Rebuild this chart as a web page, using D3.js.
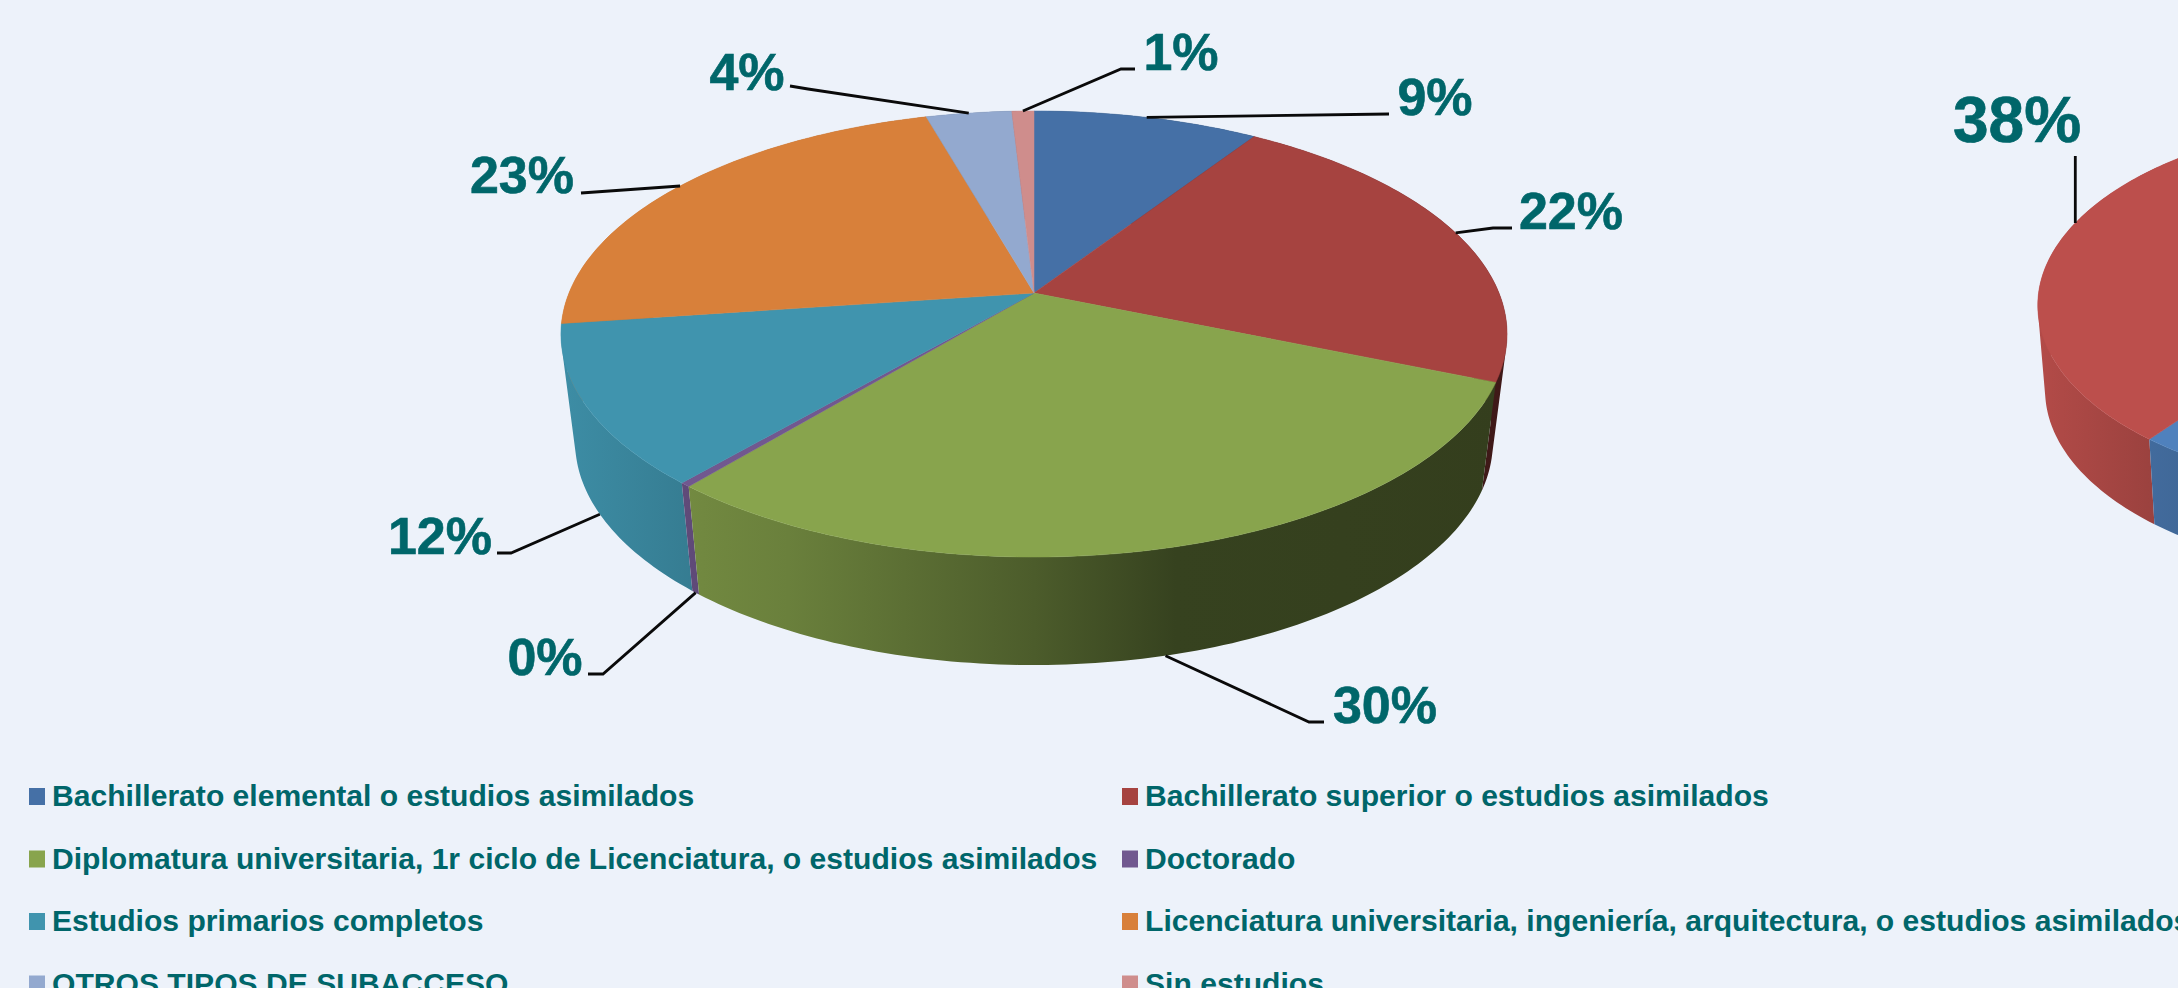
<!DOCTYPE html>
<html><head><meta charset="utf-8">
<script src="https://cdn.jsdelivr.net/npm/d3@7"></script>
<style>html,body{margin:0;padding:0;background:#edf2fa;overflow:hidden}svg{display:block}
text{font-family:"Liberation Sans",Arial,sans-serif;font-weight:bold;fill:#00666a}</style>
</head><body><svg id="c" width="2178" height="988"></svg>
<script>
const categories = ["Bachillerato elemental o estudios asimilados","Bachillerato superior o estudios asimilados",
 "Diplomatura universitaria, 1r ciclo de Licenciatura, o estudios asimilados","Doctorado",
 "Estudios primarios completos","Licenciatura universitaria, ingeniería, arquitectura, o estudios asimilados",
 "OTROS TIPOS DE SUBACCESO","Sin estudios"];
const colors = ["#4570a6","#a64340","#88a44d","#71588f","#4094ae","#d8803a","#93a9cf","#cf8d8c"];
const valuesLeft = [9.2,22.1,29.7,0.3,11.5,22.8,3.5,0.9];
const valuesRight = [60.3,38.45,1.25];
const colorsRight = ["#4f81bd","#bc4f4c","#88a44d"];

const svg = d3.select("#c");
svg.append("rect").attr("width",2178).attr("height",988).attr("fill","#edf2fa");
const defs = svg.append("defs");
const pie = d3.pie().sort(null).value(d=>d);
const shadeStops = [-1,-.7,-.52,0,.3,1];
const shadeVals = [.95,.83,.78,.56,.40,.38];

function drawPie(root, id, vals, cols, g){
  const x = d3.scaleLinear().domain([-1,1]).range([g.cx-g.k, g.cx+g.k]);
  const y = d3.scaleLinear().domain([-1,1]).range([g.ay+g.k2, g.ay-g.k2]);
  const P = t=>{const u=Math.sin(t),v=Math.cos(t),d=1+g.a*v;return [x(u/d),y(v/d)];};
  const Q = t=>{const p=P(t);return [g.cx+(p[0]-g.cx)*g.s,p[1]+g.depth];};
  const line = d3.line();
  const arcs = pie(vals);
  const step = Math.PI/180;
  cols.forEach((c,i)=>{
    const lg=defs.append("linearGradient").attr("id",id+i).attr("gradientUnits","userSpaceOnUse")
      .attr("x1",g.cx-g.rx).attr("x2",g.cx+g.rx).attr("y1",0).attr("y2",0);
    const b=d3.rgb(c);
    shadeStops.forEach((s,j)=>lg.append("stop").attr("offset",(s+1)/2)
      .attr("stop-color",d3.rgb(b.r*shadeVals[j],b.g*shadeVals[j],b.b*shadeVals[j]).formatHex()));
  });
  const walls=arcs.map((a,i)=>{
    const n=Math.max(1,Math.ceil((a.endAngle-a.startAngle)/step));
    let d="",ymax=-Infinity;
    for(let j=0;j<n;j++){
      const t0=a.startAngle+(a.endAngle-a.startAngle)*j/n,t1=a.startAngle+(a.endAngle-a.startAngle)*(j+1)/n;
      let pts=[P(t0),P(t1),Q(t1),Q(t0)];
      ymax=Math.max(ymax,pts[0][1],pts[1][1]);
      if(d3.polygonArea(pts)<0)pts=pts.reverse();
      d+=line(pts)+"Z";
    }
    return {d,ymax,col:`url(#${id}${i})`};
  }).sort((p,q)=>p.ymax-q.ymax);
  root.append("g").selectAll("path").data(walls).join("path")
    .attr("d",w=>w.d).attr("fill",w=>w.col);
  root.append("g").selectAll("path").data(arcs).join("path")
    .attr("d",a=>{const n=Math.max(2,Math.ceil((a.endAngle-a.startAngle)/step));
      const pts=[[g.cx,g.ay]];
      for(let j=0;j<=n;j++)pts.push(P(a.startAngle+(a.endAngle-a.startAngle)*j/n));
      return line(pts)+"Z";})
    .attr("fill",(a,i)=>cols[i]).attr("stroke",(a,i)=>cols[i]).attr("stroke-width",.5);
  return {arcs,P,Q};
}

const left = drawPie(svg.append("g"),"l",valuesLeft,colors,
  {cx:1034,ay:293,k:465,k2:215.5,a:.1838,rx:473,s:.97,depth:108});
const right = drawPie(svg.append("g"),"r",valuesRight,colorsRight,
  {cx:2403,ay:271,k:359,k2:180,a:.1838,rx:365,s:.98,depth:85});

// leader offsets and label placement
const leadersLeft = [
 {wall:0,path:[[1389,114]],tx:1435,ty:96},
 {wall:0,path:[[1493,228],[1512,228]],tx:1571,ty:210},
 {wall:1,path:[[1309,722],[1324,722]],tx:1385,ty:704},
 {wall:1,path:[[603,674],[588,674]],tx:545,ty:656},
 {wall:1,path:[[511,553],[497,553]],tx:440,ty:535},
 {wall:0,path:[[581,193]],tx:522,ty:174},
 {wall:0,path:[[808,89],[790,86]],tx:747,ty:71},
 {wall:0,path:[[1121,69],[1135,69]],tx:1181,ty:51}
];
const mid = a=>(a.startAngle+a.endAngle)/2;
const leaderLine=d3.line();
const G=svg.append("g");
left.arcs.forEach((a,i)=>{
  const l=leadersLeft[i];
  const s=(l.wall?left.Q:left.P)(mid(a));
  G.append("path").attr("d",leaderLine([s,...l.path])).attr("fill","none").attr("stroke","#0a0a0a").attr("stroke-width",2.8);
  G.append("text").attr("x",l.tx).attr("y",l.ty).attr("text-anchor","middle").attr("dy","0.36em")
    .attr("font-size",52).attr("stroke","#00666a").attr("stroke-width",.6).text(d3.format(".0f")(a.value)+"%");
});
{
  const a=right.arcs[1],s=right.P(mid(a));
  G.append("path").attr("d",leaderLine([s,[s[0],156]])).attr("fill","none").attr("stroke","#0a0a0a").attr("stroke-width",2.8);
  G.append("text").attr("x",2017).attr("y",119).attr("text-anchor","middle").attr("dy","0.36em")
    .attr("font-size",64).attr("stroke","#00666a").attr("stroke-width",.7).text(d3.format(".0f")(a.value)+"%");
}

// legend
const col = d3.scaleOrdinal().domain([0,1]).range([29,1122]);
const row = d3.scaleLinear().domain([0,3]).range([796,983.5]);
const lg=svg.append("g").selectAll("g").data(categories).join("g")
  .attr("transform",(d,i)=>`translate(${col(i%2)},${row(Math.floor(i/2))})`);
lg.append("rect").attr("x",0).attr("y",-8).attr("width",16).attr("height",17).attr("fill",(d,i)=>colors[i]);
lg.append("text").attr("x",23).attr("y",10).attr("font-size",30.1).text(d=>d);
</script></body></html>
